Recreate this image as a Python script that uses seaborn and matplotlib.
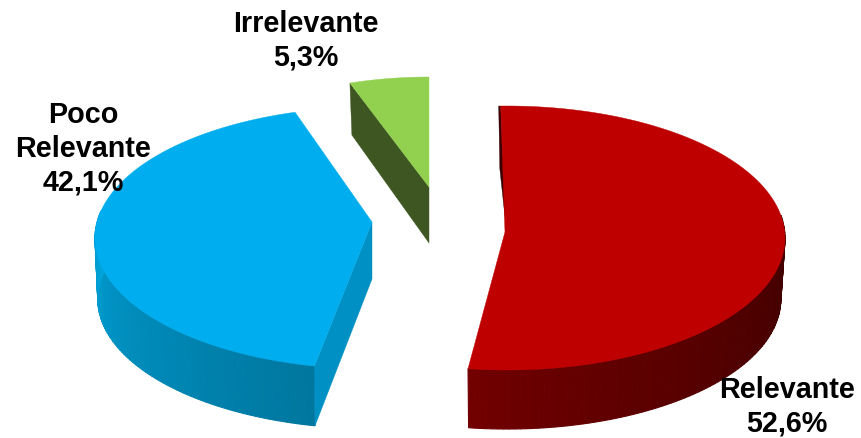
import numpy as np
import matplotlib
matplotlib.use("Agg")
import matplotlib.pyplot as plt
import seaborn as sns

# Data
categories = ["Relevante", "Poco\nRelevante", "Irrelevante"]
values = [52.6, 42.1, 5.3]
top_colors = ["#BE0000", "#00AEEF", "#92D050"]

# Layout of each exploded slice (pixels of the 861x438 canvas)
rim_center = [(507, 238), (373, 238), (429, 187)]
apex = [(505, 232), (372, 222), (429, 187)]
radius_x = [278, 278, 242]
radius_y = [132, 131, 110]
rotation = [-1.3, 2.8, 0]
depth = [61, 61, 56]
wall_scale = [0.985, 0.99, 1.0]
wall_range = [(80, None), (None, 282), None]
wall_left = ["#740000", "#00A6DE", None]
wall_right = ["#3E0000", "#00779F", None]
cut_color = ["#3A0000", "#0090C4", "#3E5622"]
label_xy = [(787, 407), (83, 149), (306, 41)]

sns.set_theme(style="white")
plt.rcParams["font.family"] = ["Liberation Sans", "DejaVu Sans"]

fig = plt.figure(figsize=(8.61, 4.38), dpi=100)
ax = fig.add_axes([0, 0, 1, 1])
ax.set_xlim(0, 861)
ax.set_ylim(438, 0)
ax.axis("off")


def rim(i, theta, scale=1.0, drop=0.0):
    t = np.radians(theta)
    x = rim_center[i][0] + scale * radius_x[i] * np.sin(t)
    y = rim_center[i][1] - scale * radius_y[i] * np.cos(t) + drop
    return x, y


def rgb(h):
    return np.array(matplotlib.colors.to_rgb(h))


spans = []
start = 0.0
for v in values:
    end = start + v / sum(values) * 360
    spans.append((start, end))
    start = end

for i, (a, b) in enumerate(spans):
    a += rotation[i]
    b += rotation[i]
    theta = np.linspace(a, b, 240)
    x, y = rim(i, theta)
    ax_, ay_ = apex[i]
    d = depth[i]

    # Curved outer wall, shaded along the rim
    if wall_range[i] is not None:
        lo = wall_range[i][0] if wall_range[i][0] is not None else a
        hi = wall_range[i][1] if wall_range[i][1] is not None else b
        edges = np.linspace(lo, hi, 90)
        for k in range(len(edges) - 1):
            tt = np.linspace(edges[k], edges[k + 1], 3)
            x1, y1 = rim(i, tt)
            x2, y2 = rim(i, tt, scale=wall_scale[i], drop=d)
            if i == 0:
                f = (edges[k] - b) / (lo - b)
            else:
                f = (edges[k] - hi) / (lo - hi)
            f = np.clip(f, 0, 1) ** 0.8
            col = rgb(wall_left[i]) * (1 - f) + rgb(wall_right[i]) * f
            ax.fill(np.r_[x1, x2[::-1]], np.r_[y1, y2[::-1]],
                    color=col, lw=0.8, zorder=2)

    # Flat cut faces
    if i == 1:
        cx, cy = rim(i, a)
        bx, by = rim(i, a, scale=wall_scale[i], drop=d)
        ax.fill([ax_, cx, bx, ax_], [ay_, cy, by, ay_ + 57],
                color=cut_color[i], lw=0.3, zorder=3)
    if i == 2:
        cx, cy = rim(i, a)
        ax.fill([cx, ax_, ax_, cx + 2], [cy, ay_, ay_ + d, cy + 52],
                color=cut_color[i], lw=0.3, zorder=3)
    if i == 0:
        cx, cy = rim(i, a)
        ax.fill([cx - 2, (cx + ax_) / 2 - 3, ax_ + 1, cx],
                [cy, (cy + ay_) / 2, ay_ - 6, cy],
                color=cut_color[i], lw=0.3, zorder=3)

    # Top face
    ax.fill(np.r_[ax_, x], np.r_[ay_, y], color=top_colors[i], lw=0.3, zorder=4)

for name, v, (lx, ly) in zip(categories, values, label_xy):
    ax.text(lx, ly, f"{name}\n{v:.1f}%".replace(".", ","),
            ha="center", va="center", fontsize=20.7, fontweight="bold",
            color="black", linespacing=1.27, zorder=6)

fig.savefig("out.png", dpi=100)
